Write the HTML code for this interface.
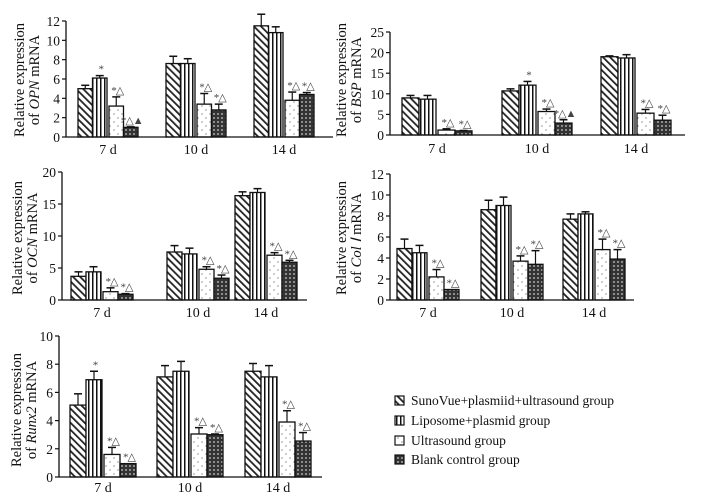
<!DOCTYPE html>
<html><head><meta charset="utf-8">
<style>
html,body{margin:0;padding:0;background:#fff;}
svg{display:block;font-family:"Liberation Serif",serif;}
</style></head>
<body>
<svg id="fig" width="702" height="499" viewBox="0 0 702 499" xmlns="http://www.w3.org/2000/svg">
<defs>
<pattern id="p0" patternUnits="userSpaceOnUse" width="5" height="5" patternTransform="rotate(-45)">
<rect width="5" height="5" fill="#fff"/><rect x="0" y="0" width="1.8" height="5" fill="#222"/></pattern>
<pattern id="p1" patternUnits="userSpaceOnUse" width="4" height="4">
<rect width="4" height="4" fill="#fff"/><rect x="0" y="0" width="1.5" height="4" fill="#111"/></pattern>
<pattern id="p2" patternUnits="userSpaceOnUse" width="8" height="8">
<rect width="8" height="8" fill="#fff"/><circle cx="2" cy="2" r="0.6" fill="#555"/><circle cx="6" cy="6" r="0.6" fill="#555"/></pattern>
<pattern id="p3" patternUnits="userSpaceOnUse" width="4" height="4">
<rect width="4" height="4" fill="#333"/><circle cx="2" cy="2" r="0.9" fill="#ccc"/></pattern>
</defs>
<g id="panels"></g>
<g font-size="13.5" fill="#111">
<rect x="395" y="396" width="9" height="9" fill="url(#p0)" stroke="#111" stroke-width="1.2"/>
<text x="411" y="405">SunoVue+plasmiid+ultrasound group</text>
<rect x="395" y="416" width="9" height="9" fill="url(#p1)" stroke="#111" stroke-width="1.2"/>
<text x="411" y="425">Liposome+plasmid group</text>
<rect x="395" y="436" width="9" height="9" fill="url(#p2)" stroke="#111" stroke-width="1.2"/>
<text x="411" y="445">Ultrasound group</text>
<rect x="395" y="455" width="9" height="9" fill="url(#p3)" stroke="#111" stroke-width="1.2"/>
<text x="411" y="464">Blank control group</text>
</g>
</svg>
<script>
const categories = ["7 d","10 d","14 d"];
const opnValues = [[5.0,6.1,3.2,1.0],[7.6,7.6,3.4,2.8],[11.5,10.8,3.8,4.4]];
const opnErrors = [[0.35,0.25,0.95,0.05],[0.75,0.5,1.1,0.6],[1.2,0.6,0.85,0.2]];
const opnMarks = [["","*","*△","*△▲"],["","","*△","*△"],["","","*△","*△"]];
const opnTicks = [0,2,4,6,8,10,12];
const bspValues = [[9.0,8.7,1.2,1.0],[10.7,12.1,5.7,2.9],[19.0,18.7,5.3,3.6]];
const bspErrors = [[0.6,0.9,0.3,0.1],[0.5,0.9,0.6,0.8],[0.2,0.8,0.9,1.2]];
const bspMarks = [["","","*△","*△"],["","*","*△","*△▲"],["","","*△","*△"]];
const bspTicks = [0,5,10,15,20,25];
const ocnValues = [[3.7,4.4,1.3,0.9],[7.5,7.2,4.8,3.4],[16.3,16.8,7.0,5.9]];
const ocnErrors = [[0.7,0.8,0.6,0.1],[1.0,0.9,0.4,0.5],[0.6,0.6,0.4,0.3]];
const ocnMarks = [["","","*△","*△"],["","","*△","*△"],["","","*△","*△"]];
const ocnTicks = [0,5,10,15,20];
const colValues = [[4.9,4.5,2.2,1.0],[8.6,9.0,3.7,3.4],[7.7,8.2,4.8,3.9]];
const colErrors = [[0.9,0.7,0.7,0.0],[0.9,0.8,0.5,1.3],[0.5,0.2,1.0,0.9]];
const colMarks = [["","","*△","*△"],["","","*△","*△"],["","","*△","*△"]];
const colTicks = [0,2,4,6,8,10,12];
const runxValues = [[5.1,6.9,1.6,0.95],[7.1,7.5,3.05,3.0],[7.5,7.1,3.9,2.55]];
const runxErrors = [[0.8,0.6,0.5,0.0],[0.8,0.7,0.45,0.05],[0.55,0.8,0.8,0.6]];
const runxMarks = [["","*","*△","*△"],["","","*△","*△"],["","","*△","*△"]];
const runxTicks = [0,2,4,6,8,10];

const NS="http://www.w3.org/2000/svg";
const root=document.getElementById('panels');
function mk(tag,attrs,parent){const e=document.createElementNS(NS,tag);for(const k in attrs)e.setAttribute(k,attrs[k]);parent.appendChild(e);return e;}

const panels=[
 {name:"opn",gene:"OPN",vals:opnValues,errs:opnErrors,marks:opnMarks,ticks:opnTicks,ax:66,y0:137,ytop:21,xend:333,centers:[108,196,284],bw:14.5,labY:154,t1:24,t2:39,tc:80},
 {name:"bsp",gene:"BSP",vals:bspValues,errs:bspErrors,marks:bspMarks,ticks:bspTicks,ax:390,y0:135,ytop:32,xend:685,centers:[437,537,636],bw:17,labY:153,t1:346,t2:361,tc:80},
 {name:"ocn",gene:"OCN",vals:ocnValues,errs:ocnErrors,marks:ocnMarks,ticks:ocnTicks,ax:62,y0:300,ytop:172,xend:307,centers:[102,198,266],bw:15,labY:317,t1:22,t2:37,tc:238},
 {name:"col1",gene:"Col Ⅰ",vals:colValues,errs:colErrors,marks:colMarks,ticks:colTicks,ax:390,y0:300,ytop:174,xend:634,centers:[428,512,594],bw:15,labY:317,t1:346,t2:361,tc:238},
 {name:"runx2",gene:"Runx2",vals:runxValues,errs:runxErrors,marks:runxMarks,ticks:runxTicks,ax:59,y0:477,ytop:336,xend:322,centers:[103,190,278],bw:16,labY:492,t1:21,t2:36,tc:410}
];
const fills=["url(#p0)","url(#p1)","url(#p2)","url(#p3)"];

panels.forEach(p=>{
 const g=mk('g',{},root);
 
 
 const max=p.ticks[p.ticks.length-1];
 const y=v=>p.y0-(v/max)*(p.y0-p.ytop);
 const xb=(gi,bi)=>{const c=p.centers[gi];const off=[-2*p.bw-1,-p.bw-1,1,p.bw+1][bi];return c+off;};
 p.vals.forEach((grp,gi)=>{grp.forEach((v,bi)=>{
  const x=xb(gi,bi),top=y(v);
  const r=mk('rect',{x:x,y:top,width:p.bw,height:p.y0-top,fill:fills[bi],stroke:"#111","stroke-width":1.3},g);
  
  
  const e=p.errs[gi][bi];const cx=x+p.bw/2;const et=y(v+e);
  if(e>0){mk('line',{x1:cx,y1:top,x2:cx,y2:et,stroke:"#111","stroke-width":1.2},g);
   mk('line',{x1:cx-4,y1:et,x2:cx+4,y2:et,stroke:"#111","stroke-width":1.5},g);}
  const m=p.marks[gi][bi];
  if(m){const t=mk('text',{x:cx+1,y:et-3,"text-anchor":"middle","font-size":11,fill:"#444","letter-spacing":"-1"},g);t.textContent=m;
   
   }
 });});
 const ya=mk('line',{x1:p.ax,y1:p.ytop,x2:p.ax,y2:p.y0,stroke:"#111","stroke-width":1.3},g);
 
 
 const xa=mk('line',{x1:p.ax,y1:p.y0,x2:p.xend,y2:p.y0,stroke:"#111","stroke-width":1.3},g);
 
 
 p.ticks.forEach(t=>{const yy=y(t);
  mk('line',{x1:p.ax-4,y1:yy,x2:p.ax,y2:yy,stroke:"#111","stroke-width":1.2},g);
  const tx=mk('text',{x:p.ax-6,y:yy+5,"text-anchor":"end","font-size":13.5,fill:"#111"},g);tx.textContent=t;
  
  
 });
 categories.forEach((c,gi)=>{
  const tx=mk('text',{x:p.centers[gi],y:p.labY,"text-anchor":"middle","font-size":14,fill:"#111"},g);tx.textContent=c;
  
  
 });
 const t1=mk('text',{x:p.t1,y:p.tc,"text-anchor":"middle","font-size":14.5,fill:"#111",transform:`rotate(-90 ${p.t1} ${p.tc})`},g);
 t1.textContent="Relative expression";
 
 
 const t2=mk('text',{x:p.t2,y:p.tc,"text-anchor":"middle","font-size":14.5,fill:"#111",transform:`rotate(-90 ${p.t2} ${p.tc})`},g);
 const s1=mk('tspan',{},t2);s1.textContent="of ";
 const s2=mk('tspan',{"font-style":"italic"},t2);s2.textContent=p.gene;
 const s3=mk('tspan',{},t2);s3.textContent=" mRNA";
 
 
});
</script>
</body></html>
